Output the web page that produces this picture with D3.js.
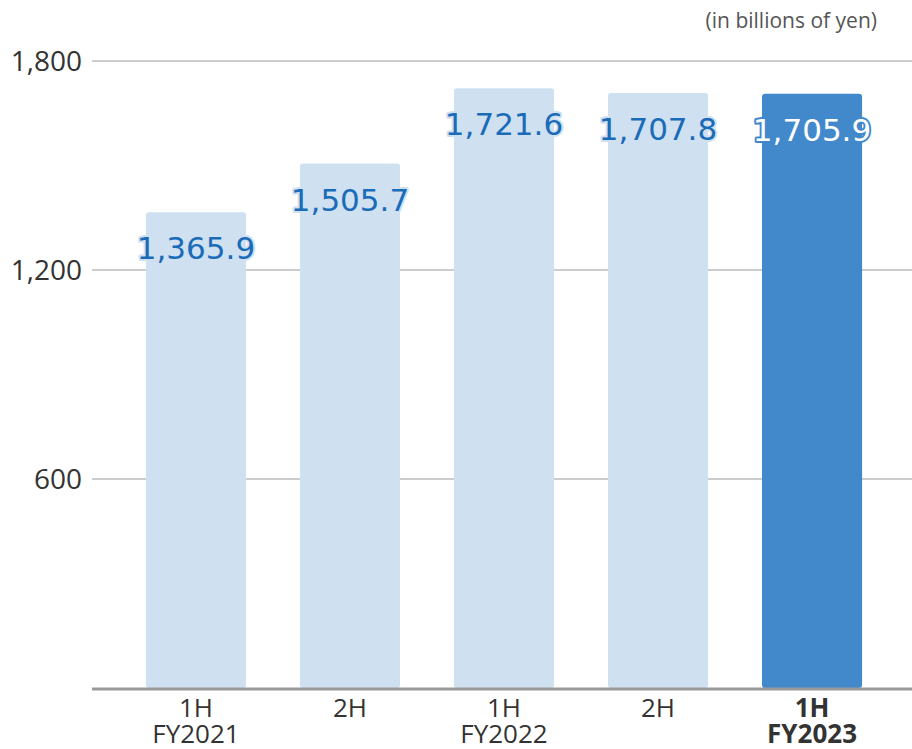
<!DOCTYPE html>
<html>
<head>
<meta charset="utf-8">
<script src="https://cdn.jsdelivr.net/npm/d3@7"></script>
<style>
  body { margin: 0; background: #fff; }
  .grid { stroke: #cccccc; stroke-width: 2; }
  .tick-label { font-family: "Open Sans", sans-serif; font-size: 28px; fill: #333; }
  .cat { font-family: "Open Sans", sans-serif; font-size: 26px; fill: #333; }
  .val { font-family: "DejaVu Sans", sans-serif; font-size: 31px; paint-order: stroke; stroke-width: 4px; stroke-linejoin: round; }
  .unit { font-family: "Open Sans", sans-serif; font-size: 21px; fill: #555; }
</style>
</head>
<body>
<script>
const line1 = ["1H", "2H", "1H", "2H", "1H"]
const line2 = ["FY2021", "", "FY2022", "", "FY2023"]
const values = [1365.9, 1505.7, 1721.6, 1707.8, 1705.9]
const tickValues = [600, 1200, 1800]

const w = 912, h = 749
const mLeft = 92, mRight = 912, mTop = 61, mBottom = 688

const svg = d3.select("body").append("svg")
  .attr("width", w).attr("height", h)

const y = d3.scaleLinear().domain([0, 1800]).range([mBottom, mTop])
const x = d3.scaleBand().domain(d3.range(values.length))
  .range([92, 916]).paddingInner(0.35).paddingOuter(0.35)

// gridlines
svg.selectAll(".grid").data(tickValues).join("line")
  .attr("class", "grid")
  .attr("x1", mLeft).attr("x2", mRight)
  .attr("y1", d => y(d)).attr("y2", d => y(d))

svg.selectAll(".tick-label").data(tickValues).join("text")
  .attr("class", "tick-label")
  .attr("x", 82).attr("y", d => y(d) + 10)
  .attr("text-anchor", "end")
  .text(d => d3.format(",")(d))

// bars
const last = values.length - 1
svg.selectAll(".bar").data(values).join("rect")
  .attr("class", "bar")
  .attr("x", (d, i) => x(i)).attr("width", x.bandwidth())
  .attr("y", d => y(d)).attr("height", d => mBottom - y(d))
  .attr("rx", 3)
  .attr("fill", (d, i) => i == last ? "#4289cc" : "#cfe0f0")

// baseline
svg.append("line")
  .attr("x1", mLeft).attr("x2", mRight)
  .attr("y1", mBottom + 1).attr("y2", mBottom + 1)
  .attr("stroke", "#999").attr("stroke-width", 3)

// value labels
svg.selectAll(".val").data(values).join("text")
  .attr("class", "val")
  .attr("x", (d, i) => x(i) + x.bandwidth() / 2)
  .attr("y", d => y(d) + 47)
  .attr("text-anchor", "middle")
  .attr("fill", (d, i) => i == last ? "#ffffff" : "#1a6bb8")
  .attr("stroke", (d, i) => i == last ? "#4289cc" : "#cfe0f0")
  .text(d => d3.format(",.1f")(d))

// category labels
const cats = svg.selectAll(".cat").data(values).join("text")
  .attr("class", "cat")
  .attr("text-anchor", "middle")
  .attr("font-weight", (d, i) => i == last ? "bold" : "normal")
cats.append("tspan")
  .attr("x", (d, i) => x(i) + x.bandwidth() / 2).attr("y", 717)
  .text((d, i) => line1[i])
cats.append("tspan")
  .attr("x", (d, i) => x(i) + x.bandwidth() / 2).attr("y", 743)
  .text((d, i) => line2[i])

svg.append("text")
  .attr("class", "unit")
  .attr("x", 877).attr("y", 28)
  .attr("text-anchor", "end")
  .text("(in billions of yen)")
</script>
</body>
</html>
